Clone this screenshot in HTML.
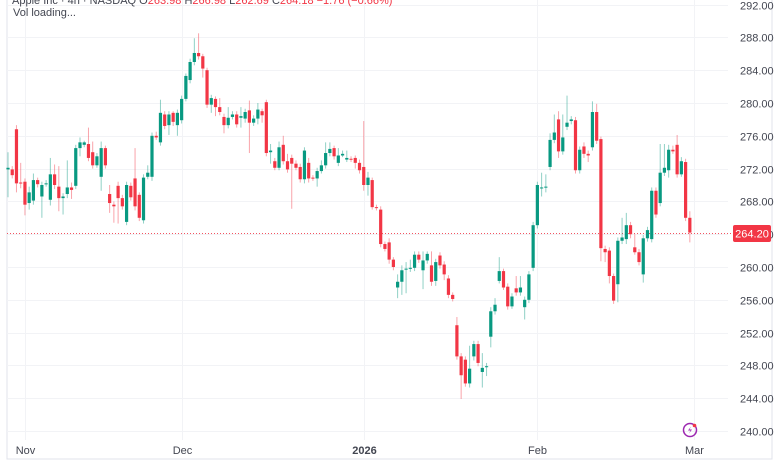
<!DOCTYPE html>
<html><head><meta charset="utf-8"><style>
html,body{margin:0;padding:0;background:#fff;}
body{width:780px;height:470px;overflow:hidden;font-family:"Liberation Sans",sans-serif;}
svg text{font-family:"Liberation Sans",sans-serif;}
</style></head><body>
<svg id="chart" width="780" height="470" xmlns="http://www.w3.org/2000/svg">
<g id="grid"></g>
<g id="candles"></g>
<g id="yaxis"></g>
<g id="xaxis"></g>
<text x="12" y="4" font-size="11" fill="#434651">Apple Inc · 4h · NASDAQ <tspan fill="#434651">O</tspan><tspan fill="#F23645">263.98</tspan> <tspan fill="#434651">H</tspan><tspan fill="#F23645">266.98</tspan> <tspan fill="#434651">L</tspan><tspan fill="#F23645">262.69</tspan> <tspan fill="#434651">C</tspan><tspan fill="#F23645">264.18 −1.76 (−0.66%)</tspan></text>
<text x="13" y="16" font-size="11" fill="#434651">Vol loading...</text>
<g transform="translate(690,430)">
<circle cx="0" cy="0" r="6.5" fill="none" stroke="#9c27b0" stroke-width="1.5"/>
<path d="M1,-3.5 L-2,0.5 L0.5,0.5 L-1,3.5 L2,-0.5 L-0.5,-0.5 Z" fill="#9c27b0"/>
<circle cx="4.5" cy="-4.5" r="1.8" fill="#F23645"/>
</g>
</svg>
<script>
const opens=[271.9,271.9,276.8,270.3,270.4,267.8,268.1,270.6,268.6,270.1,268.2,271.3,269.8,268.4,268.9,269.7,269.9,274.5,274.9,275.0,274.0,272.4,271.0,274.5,268.9,267.6,269.9,268.4,265.5,269.9,270.8,268.8,265.7,271.0,271.0,276.0,275.2,278.6,277.3,278.8,277.3,277.9,280.5,282.8,285.0,286.1,285.7,284.0,279.8,280.5,279.5,278.3,277.3,278.3,278.6,278.2,278.1,279.1,277.6,278.1,279.0,280.1,274.0,272.9,272.1,274.9,272.9,273.3,272.6,272.2,270.7,272.7,270.9,270.8,271.7,272.4,273.9,274.5,272.7,273.6,273.1,273.2,273.3,272.7,272.2,270.0,270.6,267.3,267.0,262.8,263.0,260.9,257.5,258.2,259.7,259.8,259.9,261.5,259.6,260.8,260.2,258.3,261.4,260.3,258.6,256.6,252.9,249.1,248.7,245.8,249.1,250.6,247.2,247.8,251.5,254.6,258.3,259.5,257.6,255.2,257.4,256.9,255.1,256.0,259.9,265.1,269.6,269.7,272.2,275.5,278.0,274.1,277.1,277.8,277.9,271.8,274.7,273.8,274.6,278.9,275.6,262.2,262.0,258.9,257.9,263.2,263.4,265.1,262.4,261.8,259.1,263.5,263.4,269.3,267.8,271.5,271.8,274.3,274.9,271.3,272.8,266.0];
const closes=[272.1,271.2,270.2,270.2,267.6,269.1,270.6,270.1,270.0,270.2,271.3,270.0,268.4,268.6,269.7,269.4,274.5,275.2,275.2,273.3,272.4,273.5,274.5,272.4,267.8,267.4,268.4,267.4,270.0,268.5,267.4,266.0,270.9,271.5,276.0,275.8,278.8,277.2,278.6,277.7,278.8,280.5,283.3,285.0,286.1,285.7,284.2,279.8,280.6,279.5,278.9,277.3,278.2,278.6,277.4,278.4,278.9,277.6,278.1,279.2,278.5,273.9,274.2,272.1,274.6,272.9,271.9,272.6,272.1,270.7,274.2,270.8,270.8,271.7,272.4,273.9,274.4,273.5,273.6,273.8,273.3,273.1,272.7,271.8,270.0,270.9,267.3,267.2,262.8,262.2,260.9,260.0,258.2,259.6,259.8,259.9,261.5,260.9,260.8,261.6,258.2,260.6,260.2,259.1,256.6,256.1,249.1,246.8,245.8,247.6,250.6,248.3,247.7,247.9,254.6,255.4,259.5,257.5,255.2,256.4,256.9,257.5,256.0,259.1,265.1,270.0,269.7,269.8,275.5,276.4,274.1,275.8,277.6,278.0,271.8,274.3,273.8,273.6,278.9,275.4,262.3,261.8,258.9,255.9,263.2,263.6,265.1,264.0,261.8,260.6,263.5,264.5,269.3,266.4,271.5,272.1,274.3,274.1,271.3,272.9,266.0,264.2];
const highs=[274.0,272.3,277.3,272.7,270.8,269.8,271.4,270.9,270.4,270.6,273.3,272.5,272.3,269.0,273.0,270.3,274.9,275.8,275.4,277.0,275.3,273.9,275.3,274.8,270.0,268.0,270.4,268.8,270.4,270.3,274.5,269.1,271.3,272.4,276.4,276.5,280.4,279.0,279.0,279.0,279.2,280.9,283.6,285.4,287.9,288.5,286.0,284.3,281.0,280.8,280.6,278.7,279.5,279.0,279.0,279.5,279.3,280.3,278.5,280.0,279.3,280.4,275.0,273.3,275.3,276.0,273.8,273.7,273.0,272.6,274.6,273.3,271.2,272.1,273.0,275.2,275.2,274.8,274.5,274.2,274.2,273.5,273.6,273.1,277.8,271.6,270.9,267.6,267.4,263.1,263.5,261.2,259.1,260.2,260.6,260.9,261.9,261.9,261.9,261.9,261.9,261.0,261.8,260.7,259.0,256.9,253.9,249.5,249.1,250.4,251.0,251.0,249.5,248.3,255.1,256.2,261.2,259.8,258.0,256.8,258.9,258.9,256.4,259.5,265.5,270.4,271.5,271.3,276.3,278.6,279.0,278.6,280.9,278.4,278.3,274.7,275.2,274.2,280.2,279.9,275.9,262.6,262.4,259.2,263.6,266.0,266.6,265.5,264.0,262.2,263.9,264.9,269.7,269.7,275.0,275.0,274.9,274.8,276.1,273.4,273.2,266.8];
const lows=[268.5,270.8,269.1,269.6,266.3,267.0,267.6,269.7,266.0,269.8,267.5,269.5,266.8,266.4,268.4,268.3,269.5,273.5,274.6,272.9,272.0,272.1,269.3,272.0,266.6,265.4,265.3,267.0,265.1,268.1,266.9,265.6,265.3,270.7,270.5,275.5,274.8,276.8,276.1,277.2,276.0,277.5,280.2,282.4,284.6,285.3,283.1,279.4,278.8,278.4,278.5,276.3,276.9,278.0,277.0,277.0,277.6,273.9,277.2,277.4,277.6,273.5,272.6,271.8,271.8,272.5,271.5,267.1,271.8,270.3,270.2,270.3,270.5,269.8,271.4,272.0,273.5,273.1,272.3,273.4,272.8,272.8,272.0,271.4,269.3,268.7,267.0,266.9,262.4,261.9,260.4,259.6,256.2,256.6,256.8,259.4,259.5,260.5,257.3,260.4,257.7,257.7,259.8,258.4,256.2,255.8,248.7,243.9,245.4,245.3,248.6,247.9,245.3,246.7,250.2,254.2,258.0,257.2,254.8,254.9,256.5,256.5,253.6,255.6,259.5,264.7,268.6,269.1,271.8,275.1,273.3,273.7,276.7,277.4,271.4,271.4,273.3,272.8,274.2,275.0,260.7,260.6,258.0,255.5,255.7,262.8,262.8,263.5,261.5,260.2,258.1,263.1,263.0,266.0,267.4,271.1,270.9,273.8,270.9,271.0,265.6,263.0];
const priceTicks=["240.00","244.00","248.00","252.00","256.00","260.00","264.00","268.00","272.00","276.00","280.00","284.00","288.00","292.00"];
const timeLabels=["Nov","Dec","2026","Feb","Mar"];
const timeIndex=[4,41,84,125,162];
const lastPrice=264.20;

const NS="http://www.w3.org/2000/svg";
function y(p){return 267-(p-260)*8.2;}
function x(i){return 8+i*4.235;}
function mk(tag,attrs,parent){const e=document.createElementNS(NS,tag);for(const k in attrs)e.setAttribute(k,attrs[k]);parent.appendChild(e);return e;}
const grid=document.getElementById('grid'),cg=document.getElementById('candles'),ya=document.getElementById('yaxis'),xa=document.getElementById('xaxis');
const fr=mk('path',{d:'M7,0 V459 H772 V0',fill:'none',stroke:'#e0e3eb','stroke-width':1},grid);


priceTicks.forEach(t=>{
  const yy=Math.round(y(parseFloat(t)))+0.5;
  const l=mk('line',{x1:7,x2:728,y1:yy,y2:yy,stroke:'#f2f3f6','stroke-width':1},grid);
  
  
  const tx=mk('text',{x:740,y:yy+4,'font-size':11,fill:'#434651'},ya);
  tx.textContent=t;
  
  
});
timeLabels.forEach((t,k)=>{
  const xx=Math.round(x(timeIndex[k]))+0.5;
  const l=mk('line',{x1:xx,x2:xx,y1:0,y2:440,stroke:'#f2f3f6','stroke-width':1},grid);
  
  
  const tx=mk('text',{x:xx,y:454,'font-size':11,fill:'#434651','text-anchor':'middle','font-weight':t==='2026'?'bold':'normal'},xa);
  tx.textContent=t;
  
  
});
const ly=Math.round(y(lastPrice))+0.5;
const pl=mk('line',{x1:7,x2:733,y1:ly,y2:ly,stroke:'#F23645','stroke-width':1,'stroke-dasharray':'1 2',opacity:0.85},grid);


for(let i=0;i<opens.length;i++){
  const o=opens[i],c=closes[i],up=c>=o,col=up?'#089981':'#F23645';
  const cx=x(i);
  const w=mk('line',{x1:cx,x2:cx,y1:y(highs[i]),y2:y(lows[i]),stroke:col,'stroke-width':1,opacity:0.45},cg);
  
  
  const top=y(Math.max(o,c)),bot=y(Math.min(o,c));
  const b=mk('rect',{x:cx-1.6,y:top,width:3.2,height:Math.max(1,bot-top),fill:col},cg);
  
  
}
const badge=mk('rect',{x:733,y:ly-8.5,width:38,height:17,rx:2,fill:'#F23645'},ya);


const bt=mk('text',{x:752,y:ly+4,'font-size':11,fill:'#fff','text-anchor':'middle'},ya);
bt.textContent=lastPrice.toFixed(2);


</script>
</body></html>
